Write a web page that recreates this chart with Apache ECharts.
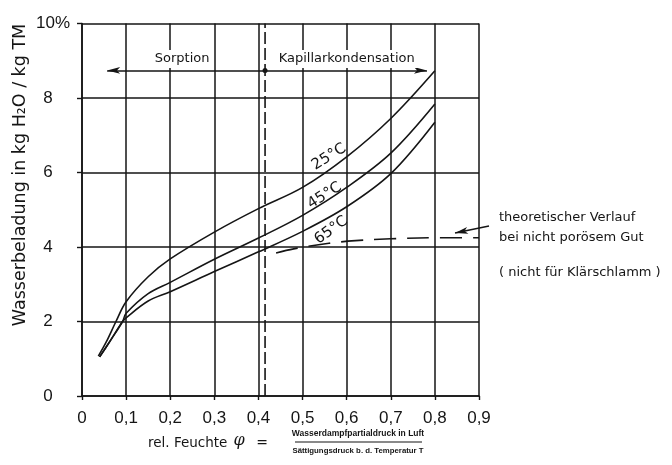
<!DOCTYPE html>
<html><head><meta charset="utf-8">
<script src="https://cdn.jsdelivr.net/npm/echarts/dist/echarts.min.js"></script>
<style>html,body{margin:0;padding:0;background:#fff}#c{width:672px;height:465px}</style>
</head><body><div id="c"></div>
<script>
// ---- data ----
const xTickLabels = ['0','0,1','0,2','0,3','0,4','0,5','0,6','0,7','0,8','0,9'];
const yTickLabels = ['0','2','4','6','8','10%'];
const curve25 = [[0.037,1.07],[0.055,1.45],[0.077,2.0],[0.1,2.53],[0.15,3.2],[0.2,3.68],[0.3,4.4],[0.4,5.03],[0.5,5.6],[0.6,6.42],[0.7,7.45],[0.8,8.73]];
const curve45 = [[0.04,1.05],[0.065,1.5],[0.092,2.0],[0.1,2.22],[0.15,2.75],[0.2,3.05],[0.3,3.67],[0.4,4.24],[0.5,4.85],[0.6,5.6],[0.7,6.52],[0.8,7.84]];
const curve65 = [[0.04,1.05],[0.065,1.5],[0.092,2.0],[0.1,2.1],[0.15,2.55],[0.2,2.8],[0.3,3.34],[0.4,3.87],[0.5,4.42],[0.6,5.08],[0.7,5.97],[0.8,7.35]];
const theoretical = [[0.44,3.84],[0.48,3.95],[0.56,4.1],[0.62,4.17],[0.7,4.22],[0.8,4.25],[0.9,4.25]];
const boundaryX = 0.415;
const rangeArrowY = 8.74;
const rangeArrowX = [0.057, 0.782];
const regionLabels = [['Sorption',0.227,9.05],['Kapillarkondensation',0.6,9.05]];
const tempLabels = [['25°C',0.56,6.42],['45°C',0.55,5.38],['65°C',0.565,4.45]];

const ink = '#151515';
const chart = echarts.init(document.getElementById('c'), null, {renderer:'canvas'});
const lineBase = {type:'line', showSymbol:false, symbol:'none', smooth:0.35, silent:true, clip:false};

chart.setOption({
  backgroundColor:'#fff',
  animation:false,
  grid:{left:82, top:23.5, right:193, bottom:69},
  xAxis:{
    type:'value', min:0, max:0.9, interval:0.1,
    axisLine:{show:true, lineStyle:{color:ink, width:1.6}},
    axisTick:{show:true, length:4, lineStyle:{color:ink, width:1.4}},
    axisLabel:{margin:14, color:ink, fontSize:17, fontFamily:'Liberation Sans',
      formatter:v=>xTickLabels[Math.round(v*10)]},
    splitLine:{show:true, lineStyle:{color:ink, width:1.5}}
  },
  yAxis:{
    type:'value', min:0, max:10, interval:2,
    axisLine:{show:true, onZero:false, lineStyle:{color:ink, width:1.6}},
    axisTick:{show:true, length:5, lineStyle:{color:ink, width:1.4}},
    axisLabel:{margin:34, align:'center', color:ink, fontSize:17, fontFamily:'Liberation Sans',
      formatter:v=>{const t=yTickLabels[Math.round(v/2)]; return v===10?'{t|'+t+'}':t;},
      rich:{t:{fontSize:17, fontFamily:'Liberation Sans', color:ink, padding:[0,0,0,10]}}},
    splitLine:{show:true, lineStyle:{color:ink, width:1.5}}
  },
  series:[
    Object.assign({}, lineBase, {name:'25°C', data:curve25, lineStyle:{color:ink, width:1.6}}),
    Object.assign({}, lineBase, {name:'45°C', data:curve45, lineStyle:{color:ink, width:1.6}}),
    Object.assign({}, lineBase, {name:'65°C', data:curve65, lineStyle:{color:ink, width:1.6}}),
    Object.assign({}, lineBase, {name:'theoretisch', data:theoretical, lineStyle:{color:ink, width:1.6, type:[22,11]}}),
    Object.assign({}, lineBase, {name:'Grenze', smooth:false, data:[[boundaryX,0],[boundaryX,10]],
      lineStyle:{color:ink, width:1.6, type:[12,4]},
      markLine:{silent:true, symbol:['arrow','arrow'], symbolSize:[5,13], label:{show:false},
        lineStyle:{color:ink, width:1.5, type:'solid'},
        data:[
          [{coord:[rangeArrowX[0],rangeArrowY]},{coord:[rangeArrowX[1],rangeArrowY]}],
          [{x:489, y:226, symbol:'none'},{x:455, y:233, symbol:'arrow'}]
        ]}
    }),
    {type:'scatter', silent:true, data:[[boundaryX,rangeArrowY]], symbolSize:5, itemStyle:{color:ink, opacity:1}, z:5},
    {type:'scatter', silent:true, z:6, symbolSize:0, itemStyle:{opacity:1},
      data:regionLabels.map(d=>({name:d[0], value:[d[1],d[2]]})),
      label:{show:true, position:'inside', formatter:'{b}', color:ink, fontSize:13, fontFamily:'DejaVu Sans',
        backgroundColor:'#fff', padding:[3,3,2,3]}},
    {type:'scatter', silent:true, z:6, symbolSize:0, itemStyle:{opacity:1},
      data:tempLabels.map((d,i)=>({name:d[0], value:[d[1],d[2]], label:{rotate:i===2?36:32}})),
      label:{show:true, position:'inside', formatter:'{b}', color:ink, fontSize:15, fontFamily:'DejaVu Sans'}}
  ],
  graphic:[
    {type:'text', x:20, y:175, rotation:Math.PI/2, silent:true,
      style:{text:'Wasserbeladung in kg H₂O / kg TM', font:'17.5px "DejaVu Sans"', fill:ink, align:'center', verticalAlign:'middle'}},
    {type:'text', x:148, y:443, silent:true, style:{text:'rel. Feuchte', font:'13.5px "DejaVu Sans"', fill:ink, align:'left', verticalAlign:'middle'}},
    {type:'text', x:239, y:441, silent:true, style:{text:'φ', font:'italic 16px "DejaVu Serif"', fill:ink, align:'center', verticalAlign:'middle'}},
    {type:'text', x:262, y:443, silent:true, style:{text:'=', font:'14px "DejaVu Sans"', fill:ink, align:'center', verticalAlign:'middle'}},
    {type:'text', x:358, y:434, silent:true, style:{text:'Wasserdampfpartialdruck in Luft', font:'bold 8.5px "Liberation Sans"', fill:ink, align:'center', verticalAlign:'middle'}},
    {type:'line', silent:true, shape:{x1:295, y1:442, x2:422, y2:442}, style:{stroke:ink, lineWidth:1.2}},
    {type:'text', x:358, y:451, silent:true, style:{text:'Sättigungsdruck b. d. Temperatur T', font:'bold 7.8px "Liberation Sans"', fill:ink, align:'center', verticalAlign:'middle'}},
    {type:'text', x:499, y:218, silent:true, style:{text:'theoretischer Verlauf', font:'13px "DejaVu Sans"', fill:ink, align:'left', verticalAlign:'middle'}},
    {type:'text', x:499, y:238, silent:true, style:{text:'bei nicht porösem Gut', font:'13px "DejaVu Sans"', fill:ink, align:'left', verticalAlign:'middle'}},
    {type:'text', x:499, y:273, silent:true, style:{text:'( nicht für Klärschlamm )', font:'13px "DejaVu Sans"', fill:ink, align:'left', verticalAlign:'middle'}}
  ]
});
</script></body></html>
